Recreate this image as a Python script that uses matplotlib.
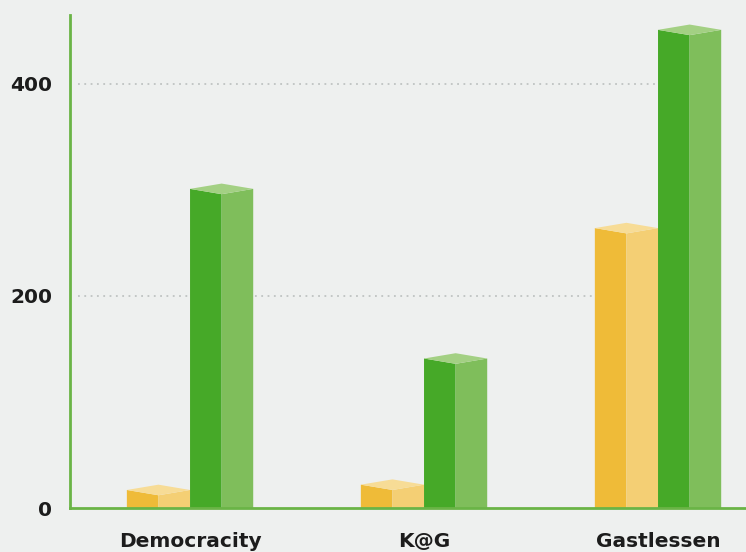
import numpy as np
import matplotlib
matplotlib.use("Agg")
import matplotlib.pyplot as plt

categories = ["Democracity", "K@G", "Gastlessen"]
yellow_vals = [17, 22, 264]
green_vals = [301, 141, 451]
yticks = [0, 200, 400]

bg = "#eef0ef"
axis_green = "#6ab446"
yellow_cols = ("#efbb38", "#f4cf74", "#f7dc96")   # front, side, top
green_cols = ("#46a928", "#7fbe5b", "#a3d083")

fig = plt.figure(figsize=(7.46, 5.52), dpi=100)
fig.patch.set_facecolor(bg)
ax = fig.add_axes([70 / 746, 44 / 552, 676 / 746, 493 / 552])
ax.set_facecolor(bg)

w = 0.27      # width of one box
d = 5         # depth of the top face, in data units


def box(xl, h, cols):
    xm = xl + w / 2
    xr = xl + w
    ax.fill([xl, xm, xm, xl], [0, 0, h - d, h], color=cols[0], lw=0, zorder=3)
    ax.fill([xm, xr, xr, xm], [0, 0, h, h - d], color=cols[1], lw=0, zorder=3)
    ax.fill([xl, xm, xr, xm], [h, h - d, h, h + d], color=cols[2], lw=0, zorder=3)


x = np.arange(len(categories))
for i in range(len(categories)):
    box(x[i] - w, yellow_vals[i], yellow_cols)
    box(x[i], green_vals[i], green_cols)

for yv in yticks[1:]:
    ax.plot([-0.48, 2.1], [yv, yv], color="#bfc3c2", lw=1.3, ls=(0, (1, 2.5)), zorder=1)

ax.set_xlim(-0.513, 2.376)
ax.set_ylim(0, 465)
ax.set_yticks(yticks)
ax.set_yticklabels([str(v) for v in yticks], fontsize=14.5, fontweight="bold", color="#1c1c1c")
ax.set_xticks(x)
ax.set_xticklabels(categories, fontsize=14.5, fontweight="bold", color="#1c1c1c")
ax.tick_params(axis="both", length=0)
ax.tick_params(axis="y", pad=13)
ax.tick_params(axis="x", pad=17)

for s in ["top", "right"]:
    ax.spines[s].set_visible(False)
for s in ["left", "bottom"]:
    ax.spines[s].set_color(axis_green)
    ax.spines[s].set_linewidth(2)
    ax.spines[s].set_zorder(4)

fig.savefig("out.png", dpi=100, facecolor=bg)
